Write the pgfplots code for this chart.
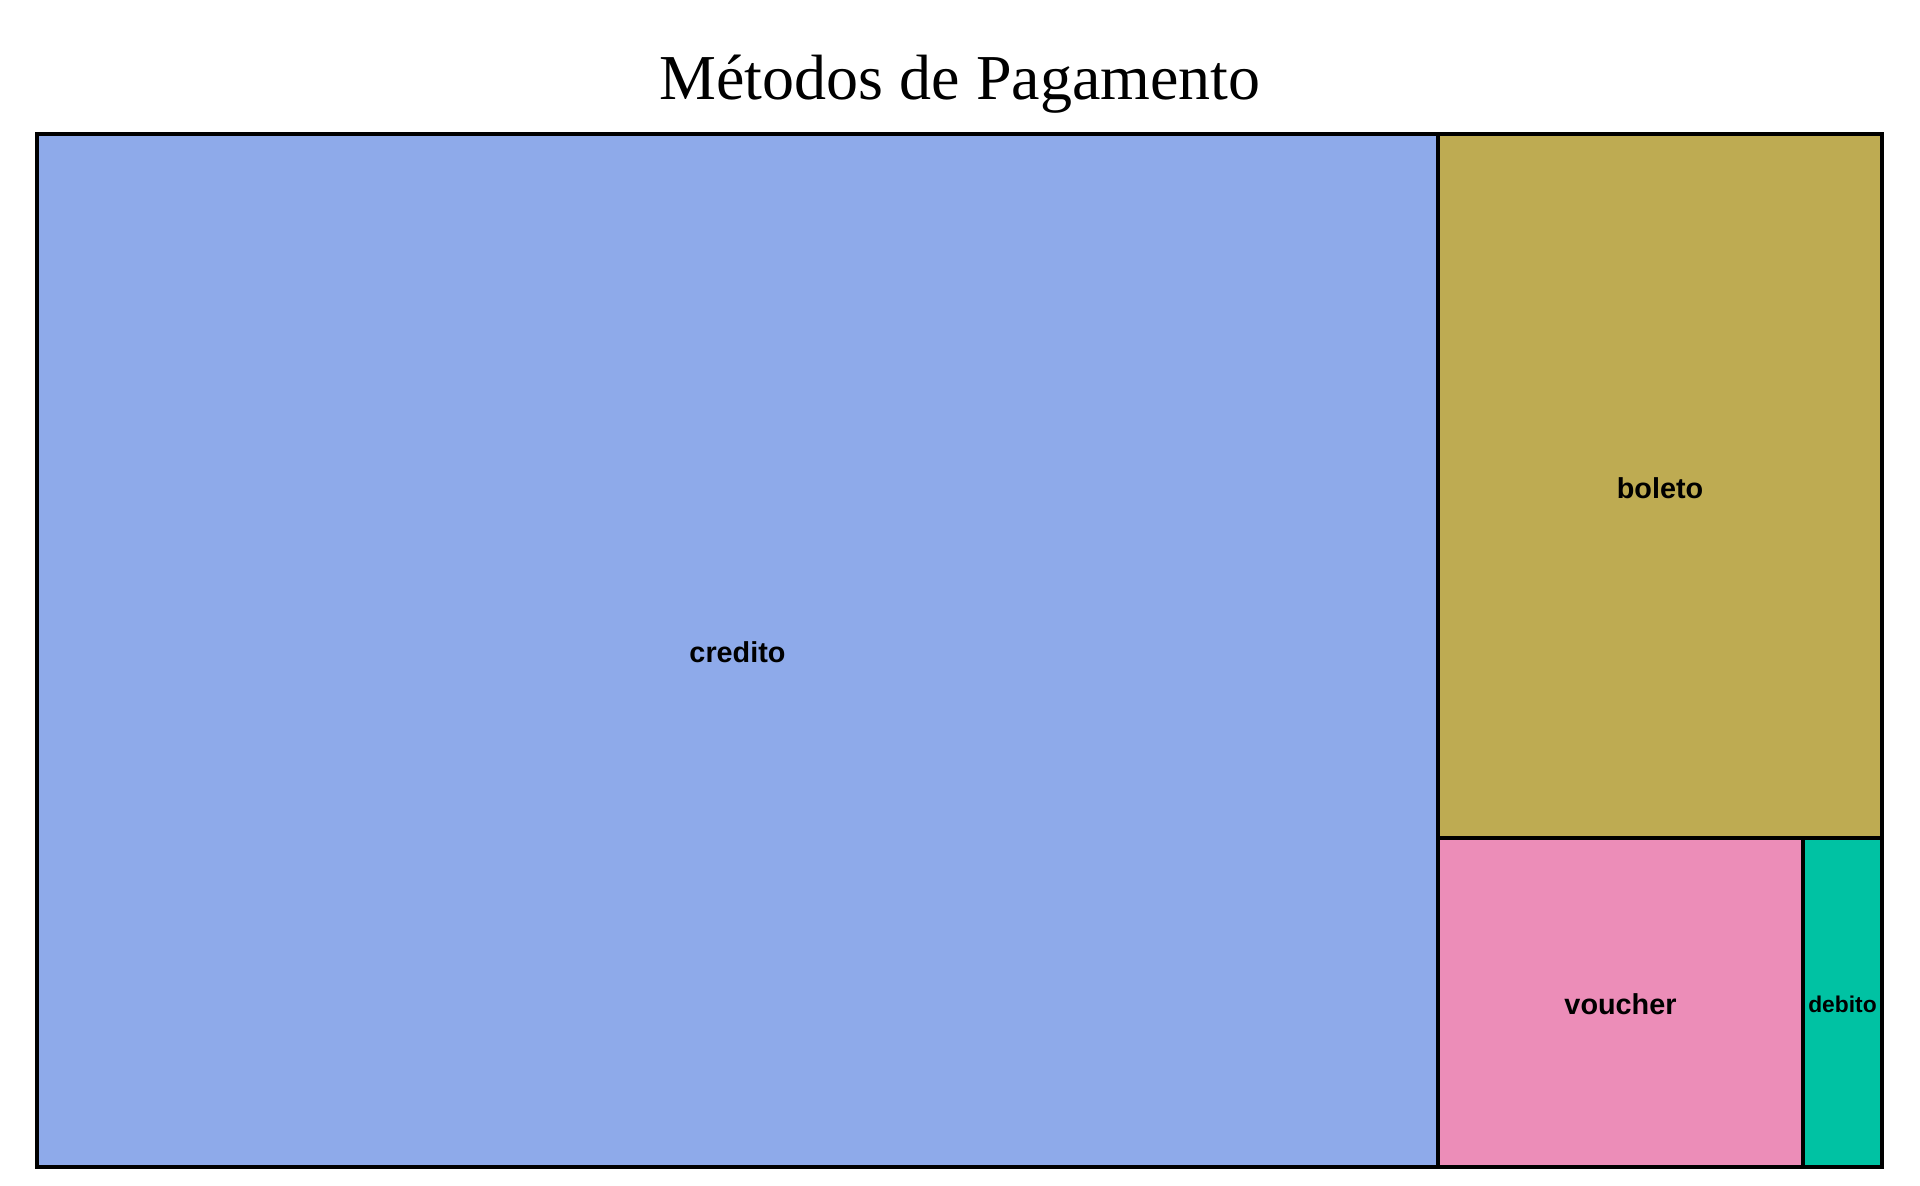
\documentclass[border=0pt]{standalone}
\usepackage{fontspec}
\setmainfont{Liberation Serif}
\newfontfamily\labfont{Liberation Sans}
\usepackage{pgfplots}
\pgfplotsset{compat=1.18}
\definecolor{ccred}{RGB}{142,170,234}
\definecolor{cbol}{RGB}{190,171,82}
\definecolor{cvou}{RGB}{236,141,184}
\definecolor{cdeb}{RGB}{0,194,163}
\begin{document}
\begin{tikzpicture}
\begin{axis}[
  scale only axis, width=480pt, height=296.5pt,
  xmin=0, xmax=1920, ymin=0, ymax=1186, y dir=reverse,
  hide axis, clip=false,
]
\addplot[draw=none, forget plot] coordinates {(0,0) (1920,1186)};
% credito
\addplot[fill=ccred, draw=black, line width=1pt] coordinates {(37,134) (1438,134) (1438,1167) (37,1167)} -- cycle;
% boleto
\addplot[fill=cbol, draw=black, line width=1pt] coordinates {(1438,134) (1882,134) (1882,838) (1438,838)} -- cycle;
% voucher
\addplot[fill=cvou, draw=black, line width=1pt] coordinates {(1438,838) (1803,838) (1803,1167) (1438,1167)} -- cycle;
% debito
\addplot[fill=cdeb, draw=black, line width=1pt] coordinates {(1803,838) (1882,838) (1882,1167) (1803,1167)} -- cycle;
\node[font=\labfont\bfseries\fontsize{7.2}{8}\selectfont] at (axis cs:737.5,652) {credito};
\node[font=\labfont\bfseries\fontsize{7.2}{8}\selectfont] at (axis cs:1660,488) {boleto};
\node[font=\labfont\bfseries\fontsize{7.2}{8}\selectfont] at (axis cs:1620.5,1004) {voucher};
\node[font=\labfont\bfseries\fontsize{5.7}{7}\selectfont] at (axis cs:1842.5,1004) {debito};
\node[anchor=base, font=\fontsize{16}{19}\selectfont] at (axis cs:960,99) {Métodos de Pagamento};
\end{axis}
\end{tikzpicture}
\end{document}
